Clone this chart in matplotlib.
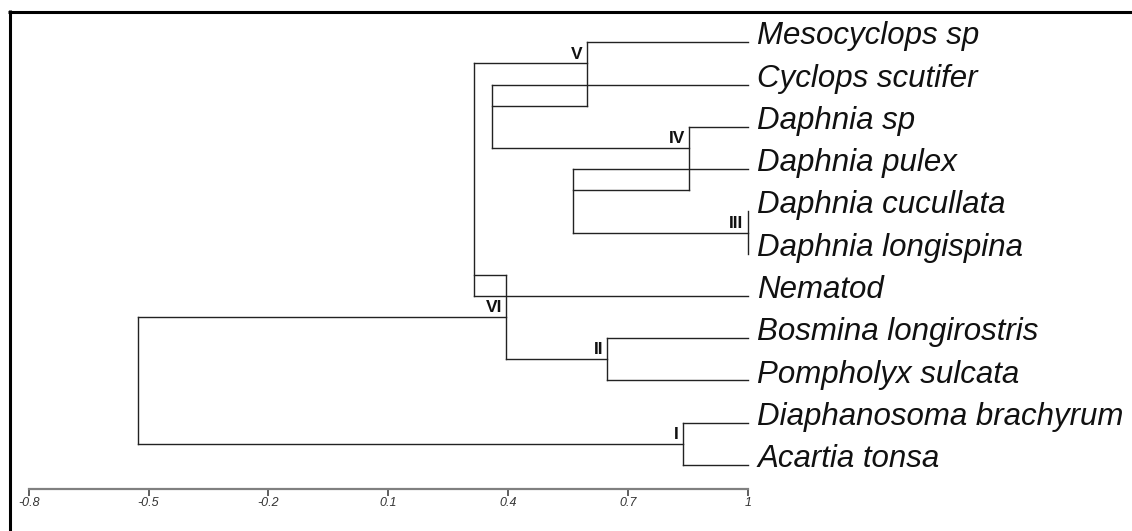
import matplotlib
matplotlib.use("Agg")
import matplotlib.pyplot as plt
from matplotlib.lines import Line2D

plt.rcParams['font.family'] = ['Liberation Sans', 'DejaVu Sans']

# leaves, top to bottom
leaves = ['Mesocyclops sp', 'Cyclops scutifer', 'Daphnia sp', 'Daphnia pulex',
          'Daphnia cucullata', 'Daphnia longispina', 'Nematod',
          'Bosmina longirostris', 'Pompholyx sulcata',
          'Diaphanosoma brachyrum', 'Acartia tonsa']
leaf_height = 1.0

# internal nodes as drawn (similarity, two children, row where parent joins)
node_names = ['n3', 'c', 'n4', 'b', 'n5', 'a', 'n6', 'n2', 'n1', 'root']
node_labels = ['III', '', 'IV', '', 'V', '', 'VI', 'II', 'I', '']
node_heights = [1.0, 0.563, 0.853, 0.359, 0.597, 0.315, 0.395, 0.648, 0.838, -0.526]
node_children = [('Daphnia cucullata', 'Daphnia longispina'),
                 ('Daphnia pulex', 'n3'),
                 ('Daphnia sp', 'c'),
                 ('Cyclops scutifer', 'n4'),
                 ('Mesocyclops sp', 'b'),
                 ('n5', 'Nematod'),
                 ('a', 'n2'),
                 ('Bosmina longirostris', 'Pompholyx sulcata'),
                 ('Diaphanosoma brachyrum', 'Acartia tonsa'),
                 ('n6', 'n1')]
node_rows = [4.5, 3.5, 2.5, 1.5, 0.5, 5.5, 6.5, 7.5, 9.5, 8.0]

ticks = [-0.8, -0.5, -0.2, 0.1, 0.4, 0.7, 1.0]
tick_labels = ['-0.8', '-0.5', '-0.2', '0.1', '0.4', '0.7', '1']

W, H = 1132, 531
fig = plt.figure(figsize=(W / 100, H / 100), dpi=100)

# axes placed so that x=-0.8 -> 28.7px, x=1 -> 747.7px, row 0 -> 42.3px, row 10 -> 465px
pu = 42.27
ytop, ybot = -0.6, 11.5
ax = fig.add_axes([28.7 / W, 1 - (42.3 + ybot * pu) / H,
                   719.0 / W, (ybot - ytop) * pu / H])
ax.set_xlim(-0.8, 1.0)
ax.set_ylim(ybot, ytop)

pos_h = {n: leaf_height for n in leaves}
pos_y = {n: i for i, n in enumerate(leaves)}
for n, h, r in zip(node_names, node_heights, node_rows):
    pos_h[n] = h
    pos_y[n] = r

lc = '#222222'
for n, lab, h, (ca, cb) in zip(node_names, node_labels, node_heights, node_children):
    ax.plot([h, h], [pos_y[ca], pos_y[cb]], color=lc, lw=1.0, clip_on=False)
    for c in (ca, cb):
        ax.plot([h, pos_h[c]], [pos_y[c], pos_y[c]], color=lc, lw=1.0, clip_on=False)
    if lab:
        ax.annotate(lab, xy=(h, pos_y[n]), xytext=(-3, 3.5), textcoords='offset points',
                    ha='right', va='baseline', fontsize=12.5, fontweight='bold', color='#111111')

for i, name in enumerate(leaves):
    ax.annotate(name, xy=(leaf_height, i), xytext=(7, -1.5), textcoords='offset points',
                ha='left', va='baseline', fontsize=22.5, style='italic', color='#111111',
                annotation_clip=False)

# scale bar
for s in ['top', 'left', 'right']:
    ax.spines[s].set_visible(False)
ax.spines['bottom'].set_position(('data', (489 - 42.3) / pu))
ax.spines['bottom'].set_bounds(-0.8, 1.0)
ax.spines['bottom'].set_color('#808080')
ax.spines['bottom'].set_linewidth(1.6)
ax.set_xticks(ticks)
ax.set_xticklabels(tick_labels, fontsize=9, style='italic', color='#333333')
ax.tick_params(axis='x', direction='out', length=5, width=1.2, color='#444444', pad=1)
ax.set_yticks([])
ax.patch.set_visible(False)

# frame edges (top and left only)
fig.add_artist(Line2D([9.5 / W, 9.5 / W], [0, 1 - 10 / H], transform=fig.transFigure,
                      color='black', lw=2.2, solid_capstyle='butt'))
fig.add_artist(Line2D([8 / W, 1], [1 - 11.5 / H, 1 - 11.5 / H], transform=fig.transFigure,
                      color='black', lw=2.2, solid_capstyle='butt'))

fig.savefig('out.png', dpi=100)
